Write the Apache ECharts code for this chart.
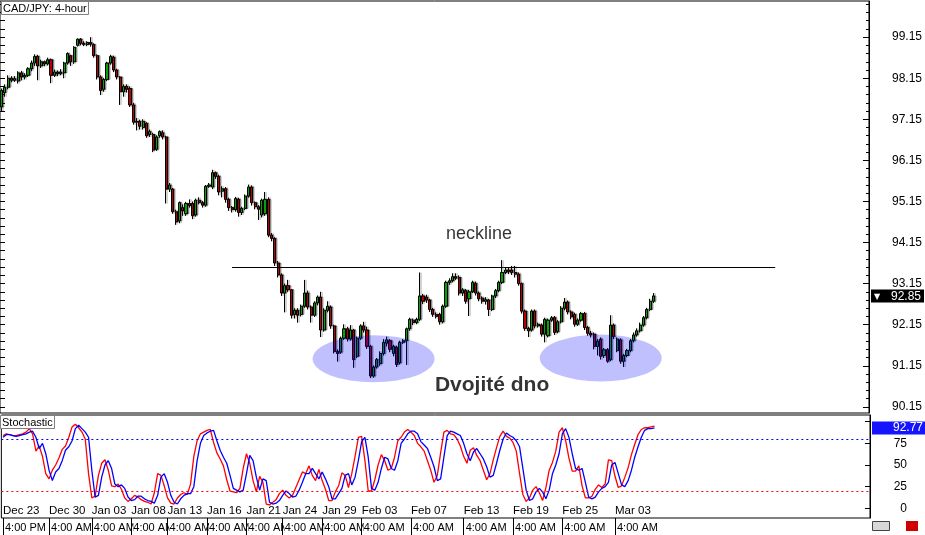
<!DOCTYPE html>
<html><head><meta charset="utf-8">
<script src="https://cdn.jsdelivr.net/npm/echarts@6/dist/echarts.min.js"></script>
<style>html,body{margin:0;padding:0;background:#fff}#c{width:925px;height:535px}</style>
</head><body><div id="c"></div>
<script>
// ---- price candles (CAD/JPY 4-hour) ----
const opens = [97.45,97.80,97.93,98.15,98.10,98.08,98.28,98.18,98.22,98.38,98.52,98.68,98.45,98.55,98.50,98.60,98.22,98.30,98.26,98.28,98.52,98.70,98.55,98.95,99.10,99.00,98.97,99.02,98.97,98.70,98.18,97.88,98.12,98.52,98.66,98.35,98.18,97.82,97.95,97.90,97.50,97.08,97.10,
96.95,97.05,96.78,96.78,96.42,96.75,96.82,96.72,95.45,95.45,94.90,94.68,95.00,94.85,95.10,95.10,94.82,95.18,95.12,95.06,95.52,95.50,95.85,95.76,95.40,95.46,95.20,95.00,94.95,95.20,94.88,94.98,95.28,95.50,95.12,95.02,94.82,94.85,95.20,94.33,
94.25,93.65,93.36,92.92,93.10,93.00,92.40,92.50,92.40,92.60,92.92,92.58,92.38,92.68,92.82,92.02,92.50,92.58,92.12,91.50,91.48,91.82,92.05,91.80,92.02,91.38,91.82,92.12,92.02,91.62,90.90,91.12,91.20,91.45,91.70,91.76,91.45,91.60,91.22,91.72,91.76,
92.05,92.26,92.20,92.28,92.85,92.82,92.75,92.52,92.40,92.40,92.22,92.60,93.18,93.22,93.32,93.30,92.92,92.98,92.78,92.95,93.15,92.92,92.80,92.72,92.75,92.52,92.85,92.98,93.18,93.42,93.48,93.48,93.42,93.38,93.15,92.48,92.06,92.02,92.48,92.12,92.14,91.92,
91.88,92.26,92.32,91.98,92.22,92.55,92.70,92.46,92.40,92.16,92.26,92.42,92.08,91.94,91.92,91.62,91.80,91.40,91.54,91.30,92.14,91.52,91.78,91.26,91.40,91.52,91.76,91.90,92.00,92.14,92.32,92.52,92.72];
const closes = [97.85,97.93,98.15,98.10,98.14,98.28,98.18,98.22,98.38,98.52,98.68,98.45,98.55,98.50,98.60,98.22,98.30,98.26,98.30,98.52,98.75,98.55,98.90,99.10,99.00,98.97,99.02,98.98,98.70,98.18,97.85,98.12,98.52,98.68,98.35,98.18,97.82,97.95,97.88,97.50,97.08,97.10,96.98,
97.10,96.75,96.85,96.40,96.72,96.85,96.72,95.45,95.55,94.90,94.65,95.12,94.92,95.10,95.05,94.80,95.18,95.12,95.06,95.52,95.55,95.85,95.76,95.38,95.46,95.20,95.00,94.95,95.22,94.88,94.98,95.28,95.50,95.12,95.02,94.96,95.18,95.20,94.33,94.25,
93.65,93.36,92.92,93.10,93.00,92.38,92.50,92.38,92.60,92.92,92.58,92.38,92.68,92.82,92.02,92.50,92.60,92.12,91.50,91.45,91.82,92.05,91.80,92.02,91.30,91.82,92.12,92.02,91.62,90.90,91.12,91.30,91.45,91.72,91.78,91.55,91.62,91.18,91.72,91.76,92.05,
92.28,92.20,92.28,92.85,92.72,92.75,92.52,92.40,92.35,92.22,92.60,93.18,93.22,93.32,93.28,92.92,93.00,92.72,92.95,93.18,92.92,92.78,92.72,92.76,92.52,92.85,92.98,93.18,93.42,93.48,93.44,93.42,93.38,93.15,92.48,92.06,92.00,92.48,92.12,92.16,91.92,92.28,
92.26,92.32,91.96,92.22,92.55,92.70,92.46,92.34,92.16,92.26,92.42,92.08,91.94,91.90,91.62,91.75,91.38,91.54,91.26,92.14,91.86,91.80,91.26,91.40,91.52,91.76,91.90,92.00,92.14,92.32,92.52,92.72,92.85];
const lows = [97.35,97.70,97.88,98.05,98.06,98.02,98.10,98.12,98.18,98.32,98.45,98.10,98.40,98.44,98.46,98.03,98.18,98.20,98.22,98.15,98.48,98.45,98.50,98.92,98.95,98.93,98.93,98.92,98.65,98.12,97.74,97.82,98.08,98.48,98.30,98.12,97.50,97.70,97.80,97.45,97.02,96.88,96.90,
96.90,96.70,96.72,96.35,96.38,96.70,96.66,95.10,95.38,94.85,94.58,94.62,94.80,94.80,95.00,94.72,94.78,95.08,95.00,95.02,95.48,95.45,95.70,95.30,95.25,95.12,94.92,94.88,94.90,94.78,94.82,94.94,95.24,95.05,94.96,94.70,94.76,94.80,94.28,94.18,
93.58,93.30,92.85,92.45,92.95,92.30,92.30,92.20,92.35,92.56,92.52,92.20,92.34,92.62,91.85,91.98,92.45,92.05,91.45,91.25,91.44,91.78,91.74,91.76,91.10,91.34,91.78,91.96,91.56,90.85,90.86,91.08,91.15,91.40,91.62,91.48,91.38,91.12,91.18,91.68,91.17,
92.00,92.14,92.16,92.24,92.65,92.68,92.46,92.34,92.30,92.15,92.18,92.56,93.12,93.18,93.24,92.86,92.85,92.66,92.36,92.92,92.86,92.72,92.66,92.64,92.36,92.48,92.80,92.94,93.14,93.38,93.38,93.36,93.30,93.10,92.42,92.00,91.85,91.98,92.06,92.08,91.86,91.72,
91.84,92.22,91.90,91.94,92.18,92.50,92.40,92.28,92.10,92.12,92.22,92.02,91.88,91.84,91.55,91.40,91.30,91.34,91.22,91.26,91.80,91.48,91.20,91.12,91.36,91.48,91.72,91.86,91.96,92.10,92.28,92.48,92.68];
const highs = [97.90,98.00,98.22,98.20,98.20,98.32,98.33,98.27,98.42,98.58,98.73,98.72,98.60,98.58,98.65,98.63,98.36,98.34,98.37,98.55,98.78,98.72,98.93,99.12,99.13,99.05,99.05,99.15,99.00,98.73,98.22,98.15,98.55,98.72,98.70,98.38,98.20,98.00,98.00,97.95,97.55,97.18,97.14,
97.15,97.08,96.90,96.82,96.76,96.88,96.88,96.75,95.60,95.48,94.95,95.15,95.08,95.14,95.20,95.15,95.22,95.25,95.16,95.55,95.60,95.92,95.88,95.80,95.52,95.50,95.24,95.04,95.26,95.24,95.02,95.32,95.56,95.54,95.15,95.06,95.22,95.38,95.25,94.38,
94.28,93.70,93.40,93.15,93.24,93.02,92.55,92.55,92.64,93.24,92.98,92.62,92.72,92.86,92.95,92.55,92.72,92.62,92.15,91.55,91.86,92.16,92.10,92.14,92.05,91.86,92.16,92.22,92.10,91.66,91.16,91.34,91.50,91.80,91.86,91.80,91.66,91.64,91.76,91.80,92.08,
92.32,92.30,92.32,93.42,92.90,92.88,92.78,92.56,92.45,92.44,92.64,93.22,93.28,93.40,93.40,93.35,93.04,93.02,93.00,93.22,93.20,92.96,92.84,92.82,92.78,92.88,93.02,93.22,93.72,93.55,93.55,93.58,93.58,93.42,93.18,92.52,92.10,92.52,92.52,92.20,92.18,92.32,
92.30,92.36,92.36,92.26,92.60,92.80,92.74,92.50,92.44,92.30,92.46,92.46,92.12,92.00,91.96,91.80,91.84,91.58,91.58,92.38,92.18,91.84,91.82,91.44,91.56,91.80,91.96,92.06,92.20,92.36,92.56,92.78,92.92];

// ---- stochastic (blue main, red signal) ----
const stochBlue = [82,85,85,84,83,84,85,86,88,89,
82,69,75,63,44,32,42,46,55,67,
71,78,92,96,92,88,82,44,13,15,
36,50,55,46,28,25,27,23,13,9,
10,14,14,11,9,8,6,15,36,40,
30,15,7,5,11,15,17,17,25,55,
75,84,87,89,90,78,67,59,52,38,
23,21,19,21,40,61,55,36,21,34,
32,7,5,6,9,15,20,17,13,14,
21,30,40,40,46,40,34,42,34,25,
11,11,17,23,38,40,27,36,55,77,
82,59,23,21,30,46,59,57,46,44,
55,75,80,86,89,89,86,77,73,69,
59,48,32,34,59,84,89,88,86,84,
75,63,55,65,69,63,57,48,36,38,
52,67,80,87,84,82,78,71,46,21,
9,11,19,23,19,11,21,40,50,63,
86,92,82,63,46,44,46,30,13,11,
13,19,23,25,30,50,53,40,27,25,
32,44,59,71,82,90,92,92,92.77];
const stochRed = [84,86,85,84,84,85,86,88,92,86,
66,72,60,40,34,44,50,58,68,72,
82,94,97,93,88,80,40,12,14,38,
52,56,44,26,25,28,22,12,8,11,
15,13,10,8,7,5,18,40,38,26,
12,6,5,12,16,18,16,28,60,78,
86,88,90,91,76,64,57,49,33,20,
19,18,23,46,63,52,32,19,37,30,
5,4,7,10,17,21,15,12,15,24,
33,42,40,49,38,32,45,32,22,9,
9,19,26,41,38,24,40,60,82,83,
55,20,20,33,50,62,55,44,46,59,
78,82,88,91,88,84,75,71,66,55,
44,30,38,64,88,90,86,85,80,72,
60,52,67,70,61,55,44,33,40,56,
70,83,89,83,81,76,66,40,16,8,
12,21,25,18,9,24,44,53,66,88,
93,78,58,43,43,49,26,12,12,14,
22,27,24,28,56,55,37,24,26,36,
47,62,74,85,91,93,93,94,95];

// ---- axis labels ----
const priceLabels = [90.15,91.15,92.15,93.15,94.15,95.15,96.15,97.15,98.15,99.15];
const stochLabels = [0,25,50,75];
const stochTicks = [0,25,50,75,100];
const stochLevels = [80,20];
const labelIdx = [0,14,27,39,50,62,74,85,97,109,124,140,155,170,186];
const dateLabels = ['Dec 23','Dec 30','Jan 03','Jan 08','Jan 13','Jan 16','Jan 21','Jan 24','Jan 29','Feb 03','Feb 07','Feb 13','Feb 19','Feb 25','Mar 03'];
const timeLabels = ['4:00 PM','4:00 AM','4:00 AM','4:00 AM','4:00 AM','4:00 AM','4:00 AM','4:00 AM','4:00 AM','4:00 AM','4:00 AM','4:00 AM','4:00 AM','4:00 AM','4:00 AM'];

// ---- annotations ----
const necklinePrice = 93.55;
const necklineFrom = 70, necklineTo = 235;
const bottomCenters = [[113, 91.32], [182, 91.34]];
const notes = [['neckline', 145, 94.36], ['Dvojité dno', 149, 90.68]];

const N_CATS = 264;
const cats = Array.from({length: N_CATS}, (_, i) => String(i));
const candleData = opens.map((o, i) => [o, closes[i], lows[i], highs[i]]);
const labelMap = new Map(labelIdx.map((k, j) => [k, j]));
const showAt = (i) => labelMap.has(i);
const minorTicks = [];
for (let k = 0; k <= 49; k++) minorTicks.push(+(90.15 + 0.2 * k).toFixed(2));
const lastClose = closes[closes.length - 1];
const lastBlue = stochBlue[stochBlue.length - 1];
const FONT = 'Liberation Sans, Arial, sans-serif';
const NOLINE = {color: 'rgba(0,0,0,0)', width: 0};

const chart = echarts.init(document.getElementById('c'), null, {renderer: 'canvas'});
chart.setOption({
  animation: false,
  textStyle: {fontFamily: FONT},
  title: [
    {text: 'CAD/JPY: 4-hour', left: 1, top: 1, padding: [2, 2, 1, 2], backgroundColor: '#fff', borderColor: '#808080', borderWidth: 1,
     textStyle: {fontSize: 11, fontWeight: 'normal', color: '#000', fontFamily: FONT}},
    {text: 'Stochastic', left: 0, top: 415, padding: [2, 2, 1, 2], backgroundColor: '#fff', borderColor: '#808080', borderWidth: 1,
     textStyle: {fontSize: 11, fontWeight: 'normal', color: '#000', fontFamily: FONT}}
  ],
  grid: [
    {left: 0, top: 1, width: 870, height: 412, show: true, borderColor: '#000', borderWidth: 1, backgroundColor: '#fff'},
    {left: 0, top: 415, width: 870, height: 103, show: true, borderColor: '#000', borderWidth: 1, backgroundColor: '#fff'}
  ],
  xAxis: [
    {gridIndex: 0, type: 'category', data: cats, boundaryGap: true, show: false},
    {gridIndex: 1, type: 'category', data: cats, boundaryGap: true, position: 'bottom',
     axisLine: {show: false}, axisTick: {show: false}, splitLine: {show: false},
     axisLabel: {inside: true, interval: (i) => showAt(i), showMinLabel: true, hideOverlap: false, align: 'left', margin: 1, fontSize: 11.5, color: '#000',
       formatter: (v) => dateLabels[labelMap.get(+v)] || ''}},
    {gridIndex: 1, type: 'category', data: cats, boundaryGap: true, position: 'bottom', z: 1,
     axisLine: {show: false}, axisTick: {show: false}, splitLine: {show: false},
     axisLabel: {interval: (i) => showAt(i), showMinLabel: true, hideOverlap: false, align: 'left', margin: 3, color: '#000',
       formatter: (v) => '{s|}{t|' + (timeLabels[labelMap.get(+v)] || '') + '}',
       rich: {s: {width: 2, height: 13}, t: {backgroundColor: '#fff', fontSize: 11, color: '#000', padding: [1, 0, 1, 0], fontFamily: FONT}}}},
    {gridIndex: 1, type: 'category', data: cats, boundaryGap: true, position: 'bottom', z: 10,
     axisLine: {show: false}, splitLine: {show: false}, axisLabel: {show: false},
     axisTick: {show: true, alignWithLabel: true, interval: (i) => showAt(i), length: 17, lineStyle: {color: '#000', width: 1}}}
  ],
  yAxis: [
    {gridIndex: 0, type: 'value', position: 'right', min: 90.0, max: 100.03, splitLine: {show: false},
     axisLine: {show: true, lineStyle: {color: '#000'}},
     axisTick: {show: true, inside: true, length: 6, customValues: priceLabels, lineStyle: {color: '#000'}},
     axisLabel: {customValues: priceLabels, formatter: (v) => v.toFixed(2), margin: 23, fontSize: 12, color: '#000'}},
    {gridIndex: 0, type: 'value', position: 'right', min: 90.0, max: 100.03, splitLine: {show: false},
     axisLine: {show: false}, axisLabel: {show: false},
     axisTick: {show: true, inside: true, length: 3, customValues: minorTicks, lineStyle: {color: '#000'}}},
    {gridIndex: 0, type: 'value', position: 'left', min: 90.0, max: 100.03, splitLine: {show: false},
     axisLine: {show: false}, axisLabel: {show: false},
     axisTick: {show: true, inside: true, length: 5, customValues: minorTicks, lineStyle: {color: '#000'}}},
    {gridIndex: 1, type: 'value', position: 'right', min: -11.15, max: 107.7, splitLine: {show: false},
     axisLine: {show: true, lineStyle: {color: '#000'}},
     axisTick: {show: true, inside: true, length: 5, customValues: stochTicks, lineStyle: {color: '#000'}},
     axisLabel: {customValues: stochLabels, align: 'right', margin: 37, fontSize: 12, color: '#000'}}
  ],
  graphic: [
    {type: 'rect', right: 35, bottom: 4, shape: {width: 17, height: 9}, style: {fill: '#d8d8d8', stroke: '#444', lineWidth: 1}},
    {type: 'rect', right: 6, bottom: 3, shape: {width: 13, height: 11}, style: {fill: '#d00000', stroke: '#fff', lineWidth: 1}}
  ],
  series: [
    {type: 'candlestick', xAxisIndex: 0, yAxisIndex: 0, data: candleData, barWidth: 2.6, z: 2,
     itemStyle: {color: '#00c800', color0: '#e00000', borderColor: '#000', borderColor0: '#000', borderWidth: 1,
       shadowColor: 'rgba(0,0,0,0.35)', shadowOffsetX: 1.5, shadowOffsetY: 0, shadowBlur: 0},
     markLine: {silent: true, symbol: 'none', animation: false,
       data: [
         [{coord: [necklineFrom, necklinePrice], lineStyle: {color: '#000', width: 1, type: 'solid'}, label: {show: false}},
          {coord: [necklineTo, necklinePrice]}],
         {yAxis: lastClose, lineStyle: NOLINE,
          label: {show: true, position: 'end', distance: 2, backgroundColor: '#000', padding: [1, 3, 0, 3],
            formatter: () => '{a|▼}{b|' + lastClose.toFixed(2) + '}',
            rich: {a: {fontSize: 8, color: '#fff', width: 17, fontFamily: 'DejaVu Sans'}, b: {fontSize: 12, color: '#fff', fontFamily: FONT}}}}
       ]}},
    {type: 'scatter', xAxisIndex: 0, yAxisIndex: 0, data: bottomCenters, symbol: 'circle', symbolSize: [122, 47], z: 4, silent: true,
     itemStyle: {color: 'rgba(0,0,255,0.31)'}},
    {type: 'scatter', xAxisIndex: 0, yAxisIndex: 0, z: 6, silent: true, symbolSize: 1, itemStyle: {color: 'rgba(0,0,0,0)'},
     data: [
       {name: notes[0][0], value: [notes[0][1], notes[0][2]], label: {fontSize: 18, fontWeight: 'normal'}},
       {name: notes[1][0], value: [notes[1][1], notes[1][2]], label: {fontSize: 21, fontWeight: 'bold'}}
     ],
     label: {show: true, position: 'inside', color: '#000', fontFamily: FONT, formatter: (p) => p.name}},
    {type: 'line', name: 'signal', xAxisIndex: 1, yAxisIndex: 3, data: stochRed, showSymbol: false, symbol: 'none',
     lineStyle: {color: '#ff0000', width: 1.3}, z: 3,
     markLine: {silent: true, symbol: 'none', data: [{yAxis: stochLevels[1], lineStyle: {color: '#ff0000', type: [2, 3], width: 1}, label: {show: false}}]}},
    {type: 'line', name: 'main', xAxisIndex: 1, yAxisIndex: 3, data: stochBlue, showSymbol: false, symbol: 'none',
     lineStyle: {color: '#0000ff', width: 1.3}, z: 4,
     markLine: {silent: true, symbol: 'none', data: [
       {yAxis: stochLevels[0], lineStyle: {color: '#0000ff', type: [2, 3], width: 1}, label: {show: false}},
       {yAxis: lastBlue, lineStyle: NOLINE,
        label: {show: true, position: 'end', distance: 2, backgroundColor: '#1414ff', color: '#fff', fontSize: 12, padding: [1, 3, 0, 21],
          formatter: () => lastBlue.toFixed(2)}}]}}
  ]
});
</script>
</body></html>
